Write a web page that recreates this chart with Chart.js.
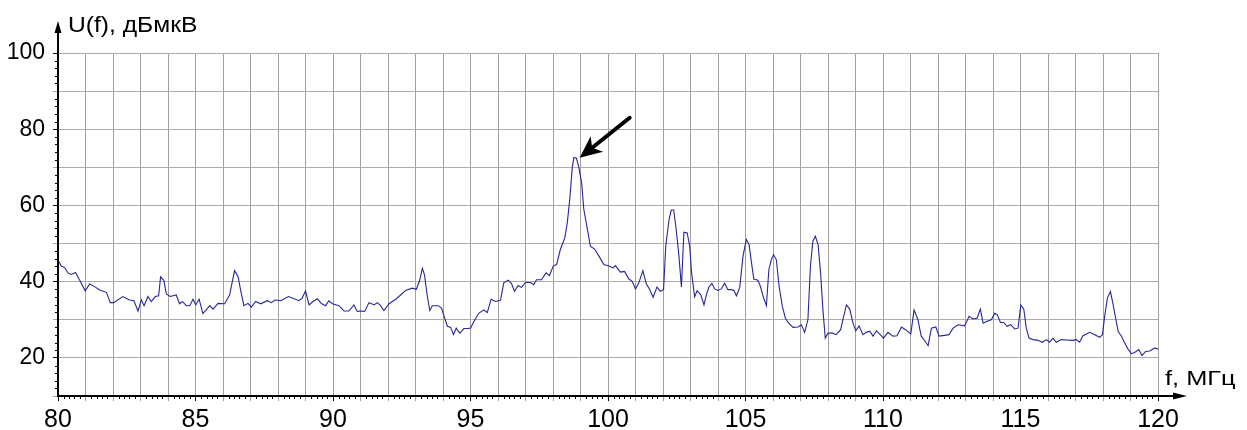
<!DOCTYPE html>
<html>
<head>
<meta charset="utf-8">
<title>U(f)</title>
<script src="https://cdn.jsdelivr.net/npm/chart.js@4.4.1/dist/chart.umd.min.js"></script>
<style>
  html, body { margin: 0; padding: 0; background: #ffffff; }
  #c { display: block; }
</style>
</head>
<body>
<canvas id="c" width="1247" height="430"></canvas>
<script>
// Spectrum trace: frequency (MHz) and level (dBµV)
const freqMHz = [
  80.0, 80.12, 80.24, 80.36, 80.48, 80.64, 80.79, 80.99, 81.15, 81.33, 81.52, 81.76, 81.9, 82.02, 82.36, 82.6, 82.76, 82.91, 83.03, 83.13,
  83.27, 83.39, 83.54, 83.66, 83.73, 83.85, 83.94, 84.08, 84.3, 84.42, 84.52, 84.67, 84.79, 84.91, 85.01, 85.13, 85.27, 85.52, 85.64, 85.82,
  86.06, 86.24, 86.42, 86.55, 86.64, 86.76, 86.91, 87.03, 87.19, 87.37, 87.61, 87.76, 87.89, 88.1, 88.38, 88.52, 88.76, 88.88, 89.0, 89.13,
  89.27, 89.43, 89.59, 89.73, 89.85, 89.98, 90.22, 90.4, 90.58, 90.76, 90.88, 91.0, 91.15, 91.31, 91.5, 91.61, 91.73, 91.85, 92.04, 92.28,
  92.46, 92.64, 92.88, 93.03, 93.15, 93.25, 93.33, 93.43, 93.52, 93.61, 93.83, 93.95, 94.07, 94.16, 94.28, 94.38, 94.48, 94.61, 94.76, 94.88,
  95.0, 95.12, 95.3, 95.48, 95.61, 95.75, 95.91, 96.09, 96.21, 96.37, 96.49, 96.6, 96.73, 96.85, 97.0, 97.18, 97.3, 97.4, 97.58, 97.75,
  97.87, 98.01, 98.13, 98.27, 98.43, 98.52, 98.61, 98.7, 98.76, 98.85, 98.94, 99.04, 99.12, 99.24, 99.36, 99.52, 99.67, 99.85, 100.03, 100.18,
  100.27, 100.45, 100.6, 100.76, 100.88, 101.0, 101.12, 101.27, 101.39, 101.52, 101.64, 101.78, 101.9, 102.02, 102.1, 102.22, 102.3, 102.39, 102.48, 102.58,
  102.67, 102.76, 102.88, 102.97, 103.04, 103.15, 103.24, 103.37, 103.49, 103.58, 103.67, 103.78, 103.88, 104.0, 104.12, 104.24, 104.36, 104.48, 104.58, 104.67,
  104.79, 104.91, 105.03, 105.13, 105.21, 105.3, 105.45, 105.54, 105.66, 105.76, 105.85, 105.94, 106.02, 106.12, 106.22, 106.34, 106.45, 106.57, 106.73, 106.91,
  107.03, 107.15, 107.27, 107.36, 107.45, 107.54, 107.64, 107.73, 107.82, 107.9, 108.0, 108.16, 108.3, 108.46, 108.57, 108.67, 108.79, 108.91, 109.01, 109.13,
  109.27, 109.39, 109.52, 109.64, 109.76, 109.9, 110.02, 110.18, 110.36, 110.51, 110.67, 110.82, 111.01, 111.13, 111.27, 111.39, 111.52, 111.64, 111.76, 111.92,
  112.04, 112.24, 112.4, 112.55, 112.73, 112.97, 113.13, 113.27, 113.42, 113.54, 113.64, 113.78, 113.94, 114.06, 114.16, 114.27, 114.39, 114.51, 114.64, 114.79,
  114.91, 115.01, 115.12, 115.21, 115.31, 115.45, 115.64, 115.79, 115.94, 116.06, 116.18, 116.3, 116.48, 116.67, 116.91, 117.03, 117.15, 117.27, 117.52, 117.7,
  117.88, 117.98, 118.06, 118.16, 118.27, 118.36, 118.46, 118.55, 118.67, 118.79, 118.91, 119.03, 119.15, 119.3, 119.42, 119.55, 119.7, 119.88, 120.0
];
const levelDb = [
  45.7, 44.1, 43.7, 42.3, 41.9, 42.4, 40.4, 37.6, 39.4, 38.7, 37.8, 37.2, 34.5, 34.5, 36.1, 35.2, 35.0, 32.3, 35.2, 33.7,
  36.1, 34.8, 36.1, 36.3, 41.3, 40.3, 36.8, 36.1, 36.5, 34.2, 34.8, 33.7, 33.7, 35.4, 33.9, 35.4, 31.6, 33.7, 32.8, 34.3,
  34.2, 36.5, 42.9, 41.3, 37.8, 33.7, 34.3, 33.3, 34.8, 34.2, 35.0, 34.5, 35.2, 35.0, 36.1, 35.7, 35.0, 35.7, 37.6, 33.9,
  34.8, 35.5, 34.2, 33.7, 35.0, 34.2, 33.7, 32.3, 32.3, 33.9, 32.2, 32.3, 32.2, 34.5, 33.9, 34.5, 33.7, 32.4, 34.2, 35.4,
  36.5, 37.7, 38.3, 38.0, 40.3, 43.5, 41.7, 36.1, 32.4, 33.7, 33.7, 33.0, 30.2, 28.3, 28.0, 26.1, 27.8, 26.5, 27.7, 27.7,
  27.8, 29.5, 31.7, 32.6, 31.9, 35.4, 34.8, 35.1, 39.7, 40.4, 39.5, 37.5, 39.0, 38.5, 39.8, 39.8, 39.2, 40.5, 40.5, 42.3,
  41.6, 44.1, 44.5, 48.5, 51.5, 55.5, 61.6, 70.0, 72.6, 72.4, 70.0, 66.0, 59.0, 54.2, 49.3, 48.5, 46.7, 44.5, 44.1, 43.6,
  44.2, 42.5, 42.7, 40.7, 40.1, 38.1, 39.7, 42.9, 39.5, 37.9, 35.9, 38.6, 37.5, 37.9, 49.3, 56.3, 58.8, 58.8, 53.7, 46.7,
  38.6, 53.0, 52.8, 49.3, 42.3, 36.0, 37.6, 36.6, 33.9, 36.6, 38.6, 39.5, 38.1, 37.7, 38.1, 39.6, 37.9, 37.9, 37.7, 36.3,
  38.5, 46.7, 51.1, 49.7, 45.4, 40.7, 40.4, 38.8, 35.7, 33.7, 43.2, 45.8, 47.1, 45.8, 38.9, 33.5, 30.4, 29.1, 28.0, 28.1,
  28.7, 26.7, 30.0, 44.0, 50.6, 51.9, 49.7, 42.3, 32.2, 25.2, 26.5, 26.5, 26.1, 27.4, 30.9, 33.9, 32.8, 29.1, 27.1, 28.4,
  26.1, 26.7, 27.0, 25.7, 27.1, 26.1, 25.2, 26.7, 25.7, 25.8, 28.1, 27.4, 26.3, 32.6, 30.0, 25.7, 24.5, 23.2, 27.8, 28.1,
  25.7, 25.9, 26.1, 27.8, 28.7, 28.4, 30.9, 30.2, 30.4, 32.8, 29.1, 29.6, 30.0, 31.7, 31.3, 29.3, 29.3, 28.3, 28.7, 27.6,
  27.8, 33.9, 32.8, 27.8, 25.2, 24.8, 24.6, 24.1, 24.8, 24.1, 25.2, 24.1, 24.8, 24.7, 24.6, 24.8, 24.1, 25.8, 26.7, 26.1,
  25.4, 26.1, 30.9, 35.7, 37.4, 34.3, 30.4, 27.0, 25.7, 23.9, 22.3, 21.1, 21.4, 22.2, 20.6, 21.7, 21.8, 22.6, 22.3
];

// Labelled ticks
const xTickLabels = [80, 85, 90, 95, 100, 105, 110, 115, 120];
const yTickLabels = [20, 40, 60, 80, 100];

// Axis ranges
const xRange = [80, 120];
const yRange = [10, 100];

// Point marked by the pointer arrow
const markFreq = 98.97;
const markLevel = 72.5;

const FONT = "'Liberation Sans', Arial, sans-serif";
const GRID_V = '#a0a0a0';
const GRID_H = '#ababab';

// text drawn with a horizontal stretch factor
function stretchedText(ctx, text, x, y, sx) {
  ctx.save();
  ctx.translate(x, y);
  ctx.scale(sx, 1);
  ctx.fillText(text, 0, 0);
  ctx.restore();
}

const axesPlugin = {
  id: 'axesPlugin',
  afterDatasetsDraw(chart) {
    const { ctx, chartArea: a, scales: { x, y } } = chart;
    ctx.save();

    // minor ticks
    ctx.strokeStyle = '#000';
    ctx.lineWidth = 1;
    ctx.beginPath();
    for (let f = xRange[0] * 5; f <= xRange[1] * 5; f++) {
      if (f % 5 === 0) continue;
      const px = Math.round(x.getPixelForValue(f / 5)) + 0.5;
      ctx.moveTo(px, a.bottom);
      ctx.lineTo(px, a.bottom + 3);
    }
    for (let v = yRange[0]; v <= yRange[1]; v += 2) {
      if (v % 10 === 0) continue;
      const py = Math.round(y.getPixelForValue(v)) + 0.5;
      ctx.moveTo(a.left - 3, py);
      ctx.lineTo(a.left, py);
    }
    ctx.stroke();

    // axis lines
    ctx.lineWidth = 2;
    ctx.beginPath();
    ctx.moveTo(a.left, a.bottom + 1);
    ctx.lineTo(a.left, 30);
    ctx.moveTo(a.left - 1, a.bottom);
    ctx.lineTo(a.right + 18, a.bottom);
    ctx.stroke();

    // axis arrowheads
    ctx.fillStyle = '#000';
    ctx.beginPath();
    ctx.moveTo(a.left, 21);
    ctx.lineTo(a.left - 3.5, 33);
    ctx.lineTo(a.left + 3.5, 33);
    ctx.closePath();
    ctx.fill();
    ctx.beginPath();
    ctx.moveTo(a.right + 29, a.bottom);
    ctx.lineTo(a.right + 15, a.bottom - 3.5);
    ctx.lineTo(a.right + 15, a.bottom + 3.5);
    ctx.closePath();
    ctx.fill();

    // axis titles
    ctx.textBaseline = 'alphabetic';
    ctx.textAlign = 'left';
    ctx.font = '22px ' + FONT;
    stretchedText(ctx, 'U(f), дБмкВ', a.left + 10, 32, 1.12);
    ctx.font = '20px ' + FONT;
    stretchedText(ctx, 'f, МГц', a.right + 7, a.bottom - 11, 1.27);

    // pointer arrow at the main peak
    const tx = x.getPixelForValue(markFreq);
    const ty = y.getPixelForValue(markLevel);
    const ux = 50 / 64, uy = -40 / 64;   // direction from tip to tail
    const nx = -uy, ny = ux;
    const len = 64;
    ctx.lineCap = 'round';
    ctx.lineWidth = 4;
    ctx.beginPath();
    ctx.moveTo(tx + ux * len, ty + uy * len);
    ctx.lineTo(tx + ux * 16, ty + uy * 16);
    ctx.stroke();
    ctx.beginPath();
    ctx.moveTo(tx, ty);
    ctx.lineTo(tx + ux * 22 + nx * 10, ty + uy * 22 + ny * 10);
    ctx.lineTo(tx + ux * 16, ty + uy * 16);
    ctx.lineTo(tx + ux * 22 - nx * 10, ty + uy * 22 - ny * 10);
    ctx.closePath();
    ctx.fill();

    ctx.restore();
  }
};

new Chart(document.getElementById('c'), {
  type: 'line',
  data: {
    datasets: [{
      data: freqMHz.map((f, i) => ({ x: f, y: levelDb[i] })),
      borderColor: '#26269a',
      borderWidth: 1.1,
      pointRadius: 0,
      tension: 0,
      fill: false
    }]
  },
  options: {
    responsive: false,
    devicePixelRatio: 1,
    animation: false,
    events: [],
    layout: { padding: { left: 0, right: 89, top: 53, bottom: 0 } },
    plugins: { legend: { display: false }, tooltip: { enabled: false } },
    scales: {
      x: {
        type: 'linear',
        min: xRange[0],
        max: xRange[1],
        afterFit(s) { s.height = 34; },
        border: { display: false },
        grid: {
          color: GRID_V,
          lineWidth: 1,
          tickLength: 5,
          tickColor: c => (xTickLabels.includes(c.tick && c.tick.value) ? '#000' : GRID_V)
        },
        ticks: {
          stepSize: 1,
          autoSkip: false,
          maxRotation: 0,
          maxTicksLimit: 100,
          padding: 4,
          color: '#000',
          font: { family: FONT, size: 25 },
          callback: v => (xTickLabels.includes(v) ? String(v) : '')
        }
      },
      y: {
        type: 'linear',
        min: yRange[0],
        max: yRange[1],
        afterFit(s) { s.width = 58; },
        border: { display: false },
        grid: {
          color: GRID_H,
          lineWidth: 1,
          tickLength: 5,
          tickColor: c => (yTickLabels.includes(c.tick && c.tick.value) ? '#000' : GRID_H)
        },
        ticks: {
          stepSize: 10,
          autoSkip: false,
          padding: 8,
          color: '#000',
          font: { family: FONT, size: 23 },
          callback: v => (yTickLabels.includes(v) ? String(v) : '')
        }
      }
    }
  },
  plugins: [axesPlugin]
});
</script>
</body>
</html>
